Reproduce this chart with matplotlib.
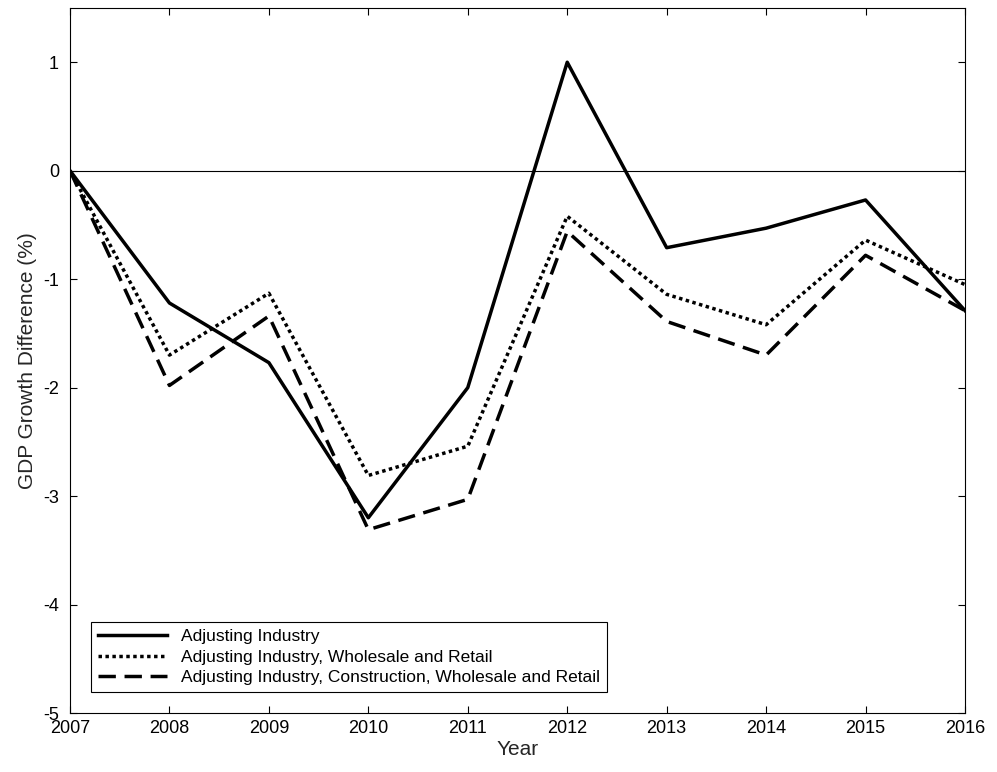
import matplotlib
matplotlib.use('Agg')
import matplotlib.pyplot as plt

# data
years = [2007, 2008, 2009, 2010, 2011, 2012, 2013, 2014, 2015, 2016]
industry = [0, -1.22, -1.77, -3.20, -2.00, 1.00, -0.71, -0.53, -0.27, -1.29]
wholesale = [0, -1.70, -1.13, -2.81, -2.54, -0.42, -1.14, -1.42, -0.64, -1.05]
construction = [0, -1.98, -1.34, -3.31, -3.03, -0.56, -1.39, -1.70, -0.78, -1.29]

plt.rcParams['font.family'] = ['Liberation Sans', 'DejaVu Sans']
plt.rcParams['axes.unicode_minus'] = False
fig = plt.figure(figsize=(9.97, 7.72), dpi=100)
ax = fig.add_axes([70/997, 59/772, 895/997, 705/772])

ax.axhline(0, color='black', linewidth=0.8)
ax.plot(years, industry, color='black', linewidth=2.5, linestyle='-', label='Adjusting Industry')
ax.plot(years, wholesale, color='black', linewidth=2.5, linestyle=(0, (1, 1)),
        label='Adjusting Industry, Wholesale and Retail')
ax.plot(years, construction, color='black', linewidth=2.5, linestyle=(0, (5, 2.5)),
        label='Adjusting Industry, Construction, Wholesale and Retail')

ax.set_xlim(2007, 2016)
ax.set_ylim(-5, 1.5)
ax.set_xticks(years)
ax.set_yticks([-5, -4, -3, -2, -1, 0, 1])
ax.tick_params(direction='in', labelsize=13, top=True, right=True, length=5)
ax.tick_params(axis='y', pad=8)
ax.tick_params(axis='x', pad=5)
ax.set_xlabel('Year', fontsize=15, color='#262626', labelpad=2)
ax.set_ylabel('GDP Growth Difference (%)', fontsize=15, color='#262626')
for s in ax.spines.values():
    s.set_linewidth(0.8)

leg = ax.legend(loc='lower left', fontsize=12.5, fancybox=False, edgecolor='black',
                handlelength=4, borderaxespad=1.2, framealpha=1, labelspacing=0.3)
leg.get_frame().set_linewidth(0.8)

fig.savefig('out.png', dpi=100)
